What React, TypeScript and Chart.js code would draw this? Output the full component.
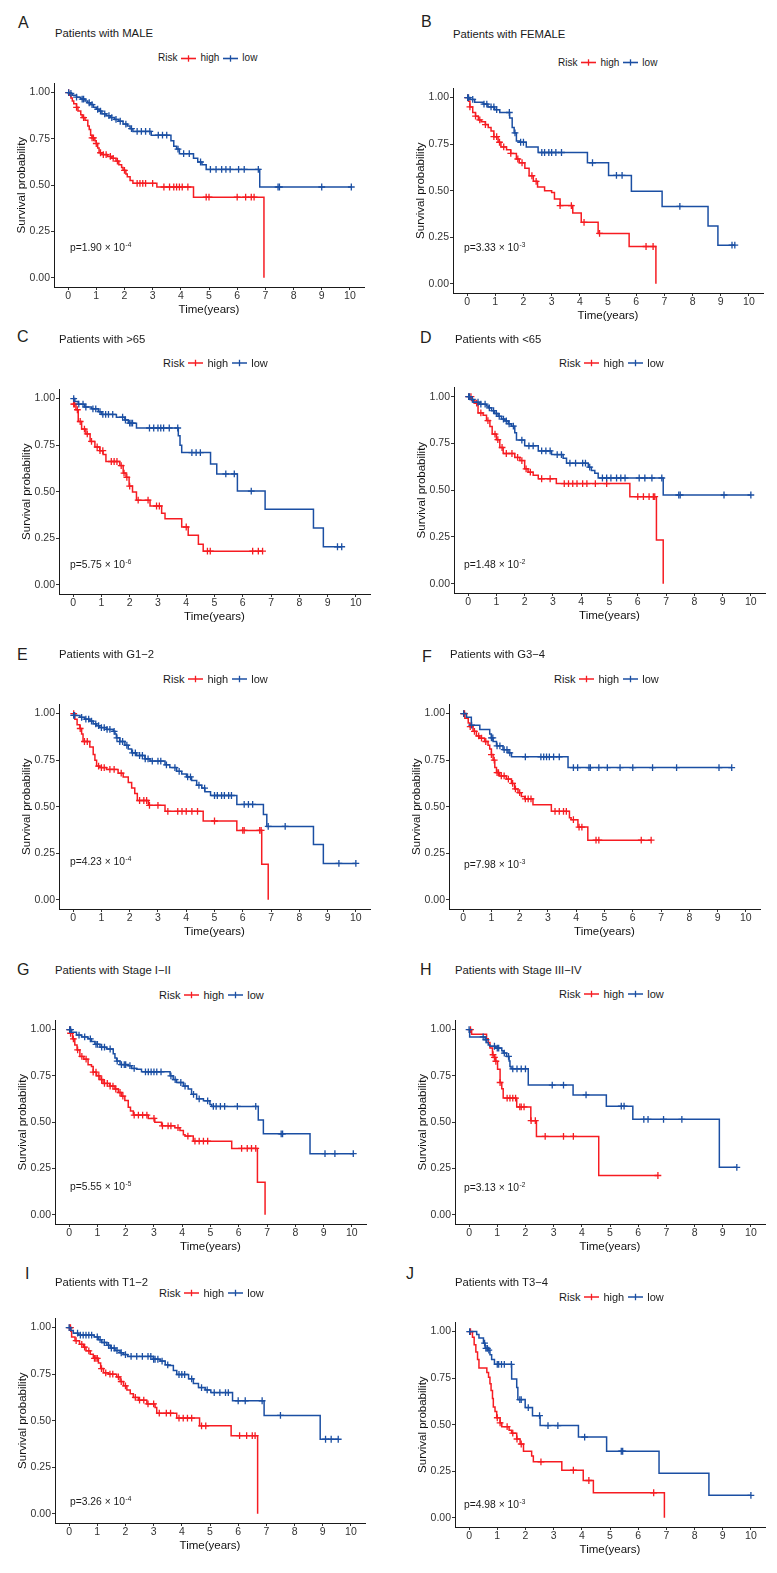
import React, { useEffect, useRef } from 'react';
import { Chart, registerables } from 'chart.js';

Chart.register(...registerables);

const FONT = "'Liberation Sans', Arial, Helvetica, sans-serif";
const RED = '#f61c22';
const BLUE = '#1b4fa3';

// ---------- axis ticks ----------
const xTickValues = [0, 1, 2, 3, 4, 5, 6, 7, 8, 9, 10];
const yTickValues = [0, 0.25, 0.5, 0.75, 1];
const yTickLabels = ['0.00', '0.25', '0.50', '0.75', '1.00'];
const xTitle = 'Time(years)';
const yTitle = 'Survival probability';
const legendTitle = 'Risk';
const groupNames = ['high', 'low'];

// ---------- A: MALE ----------
const maleHighT = [0.05, 0.1, 0.15, 0.2, 0.3, 0.35, 0.45, 0.5, 0.6, 0.7, 0.75, 0.8, 0.85, 0.95, 1.0, 1.05, 1.1, 1.2, 1.4, 1.55, 1.7, 1.8, 1.9, 1.95, 2.05, 2.1, 2.2, 2.3, 3.15, 4.45, 6.95];
const maleHighS = [0.985, 0.97, 0.955, 0.94, 0.92, 0.9, 0.88, 0.865, 0.85, 0.82, 0.8, 0.77, 0.755, 0.74, 0.725, 0.7, 0.675, 0.665, 0.655, 0.645, 0.63, 0.61, 0.595, 0.58, 0.56, 0.545, 0.525, 0.51, 0.49, 0.435, 0];
const maleHighC = [0.02, 0.3, 0.55, 0.85, 0.9, 1.0, 1.15, 1.25, 1.35, 1.5, 1.6, 1.75, 2.0, 2.45, 2.55, 2.65, 2.75, 3.0, 3.4, 3.6, 3.75, 3.85, 3.95, 4.05, 4.25, 4.9, 5.0, 6.0, 6.3, 6.5, 6.6];
const maleLowT = [0.05, 0.15, 0.3, 0.45, 0.6, 0.7, 0.8, 0.9, 1.0, 1.1, 1.2, 1.35, 1.5, 1.65, 1.8, 1.95, 2.1, 2.2, 2.3, 2.95, 3.65, 3.75, 3.85, 3.95, 4.45, 4.6, 4.75, 4.9, 6.8];
const maleLowS = [0.995, 0.985, 0.975, 0.965, 0.955, 0.945, 0.935, 0.92, 0.91, 0.9, 0.885, 0.875, 0.865, 0.855, 0.845, 0.83, 0.82, 0.805, 0.79, 0.77, 0.74, 0.71, 0.695, 0.67, 0.645, 0.625, 0.61, 0.585, 0.49];
const maleLowC = [0.02, 0.1, 0.3, 0.5, 0.55, 0.75, 0.85, 1.05, 1.15, 1.3, 1.45, 1.55, 1.7, 1.85, 2.05, 2.25, 2.45, 2.6, 2.75, 2.9, 3.2, 3.35, 3.5, 3.9, 4.1, 4.3, 4.7, 5.05, 5.25, 5.45, 5.6, 5.75, 6.05, 6.25, 6.75, 7.45, 7.5, 9.0, 10.05];

// ---------- B: FEMALE ----------
const femaleHighT = [0.05, 0.1, 0.2, 0.3, 0.4, 0.5, 0.65, 0.75, 0.85, 0.95, 1.1, 1.2, 1.4, 1.55, 1.75, 1.85, 2.05, 2.2, 2.35, 2.5, 2.75, 3.0, 3.1, 3.3, 3.75, 4.05, 4.65, 5.75, 6.7];
const femaleHighS = [0.98, 0.95, 0.92, 0.9, 0.88, 0.87, 0.855, 0.84, 0.82, 0.79, 0.76, 0.735, 0.72, 0.7, 0.67, 0.65, 0.62, 0.58, 0.55, 0.52, 0.5, 0.49, 0.455, 0.42, 0.38, 0.33, 0.27, 0.2, 0];
const femaleHighC = [0.02, 0.1, 0.3, 0.45, 0.65, 0.95, 1.05, 1.15, 1.3, 1.55, 1.8, 1.95, 2.3, 2.45, 3.3, 3.7, 4.15, 4.7, 6.35, 6.6];
const femaleLowT = [0.1, 0.27, 0.57, 0.74, 0.98, 1.16, 1.51, 1.6, 1.67, 1.75, 1.87, 2.1, 2.52, 4.27, 5.02, 5.83, 6.92, 8.55, 8.9];
const femaleLowS = [0.99, 0.975, 0.965, 0.95, 0.935, 0.92, 0.89, 0.84, 0.81, 0.767, 0.76, 0.735, 0.705, 0.65, 0.582, 0.497, 0.415, 0.31, 0.207];
const femaleLowC = [0.02, 0.05, 0.2, 0.6, 0.7, 0.85, 0.95, 1.05, 1.5, 1.7, 1.9, 2.0, 2.65, 2.75, 2.9, 3.0, 3.15, 3.35, 4.45, 5.3, 5.5, 7.55, 9.4, 9.5];

// ---------- C: >65 ----------
const olderHighT = [0.02, 0.1, 0.18, 0.3, 0.45, 0.6, 0.77, 0.94, 1.06, 1.16, 1.65, 1.77, 1.87, 1.98, 2.1, 2.24, 2.72, 3.13, 3.25, 3.84, 4.07, 4.43, 4.6];
const olderHighS = [0.97, 0.94, 0.877, 0.836, 0.81, 0.77, 0.74, 0.72, 0.7, 0.662, 0.64, 0.6, 0.577, 0.53, 0.498, 0.454, 0.423, 0.384, 0.354, 0.31, 0.266, 0.217, 0.18];
const olderHighC = [0.02, 0.05, 0.15, 0.25, 0.4, 0.5, 0.65, 0.85, 0.95, 1.05, 1.35, 1.45, 1.55, 1.7, 1.8, 1.9, 2.0, 2.3, 2.65, 2.95, 3.05, 4.0, 4.75, 4.85, 6.35, 6.55, 6.7];
const olderLowT = [0.06, 0.18, 0.41, 0.65, 0.89, 1.0, 1.53, 1.83, 1.95, 2.24, 3.72, 3.78, 3.84, 4.86, 5.08, 5.81, 6.79, 8.5, 8.85];
const olderLowS = [0.985, 0.97, 0.955, 0.945, 0.93, 0.915, 0.9, 0.885, 0.868, 0.842, 0.8, 0.75, 0.71, 0.648, 0.595, 0.503, 0.405, 0.305, 0.204];
const olderLowC = [0.02, 0.2, 0.35, 0.45, 0.7, 0.8, 0.95, 1.05, 1.15, 1.25, 1.4, 1.75, 1.85, 2.0, 2.05, 2.1, 2.7, 2.85, 3.0, 3.1, 3.2, 3.4, 3.7, 4.2, 4.35, 4.5, 5.4, 5.7, 6.3, 9.35, 9.5];

// ---------- D: <65 ----------
const youngerHighT = [0.12, 0.24, 0.35, 0.53, 0.65, 0.77, 0.85, 1.0, 1.12, 1.24, 1.65, 1.83, 2.0, 2.12, 2.3, 2.48, 3.12, 5.72, 6.66, 6.9];
const youngerHighS = [0.98, 0.965, 0.913, 0.9, 0.872, 0.84, 0.8, 0.77, 0.728, 0.696, 0.675, 0.658, 0.614, 0.596, 0.58, 0.561, 0.535, 0.465, 0.233, 0];
const youngerHighC = [0.02, 0.1, 0.3, 0.45, 0.7, 0.95, 1.05, 1.2, 1.35, 1.55, 1.75, 1.9, 2.05, 2.2, 2.6, 2.9, 3.4, 3.55, 3.7, 3.85, 4.05, 4.2, 4.5, 4.9, 6.0, 6.2, 6.4, 6.55, 6.6];
const youngerLowT = [0.06, 0.18, 0.41, 0.65, 0.71, 0.83, 0.94, 1.06, 1.18, 1.3, 1.42, 1.53, 1.65, 1.71, 2.0, 2.48, 2.95, 3.36, 3.48, 4.25, 4.36, 4.48, 4.6, 6.9];
const youngerLowS = [0.985, 0.97, 0.96, 0.95, 0.94, 0.925, 0.91, 0.895, 0.88, 0.87, 0.855, 0.842, 0.807, 0.768, 0.737, 0.71, 0.69, 0.67, 0.644, 0.623, 0.605, 0.59, 0.565, 0.474];
const youngerLowC = [0.02, 0.05, 0.15, 0.35, 0.45, 0.6, 0.75, 0.9, 1.0, 1.1, 1.25, 1.35, 1.45, 1.6, 1.9, 2.15, 2.3, 2.6, 2.75, 2.9, 3.15, 3.3, 3.6, 3.8, 4.05, 4.15, 4.3, 4.75, 4.9, 5.05, 5.25, 5.4, 5.55, 6.05, 6.25, 6.5, 6.85, 7.45, 7.5, 9.05, 10.0];

// ---------- E: G1-2 ----------
const g12HighT = [0.06, 0.14, 0.24, 0.3, 0.35, 0.59, 0.71, 0.77, 0.83, 0.94, 1.18, 1.59, 1.77, 1.95, 2.07, 2.18, 2.27, 2.66, 3.25, 4.6, 5.79, 6.67, 6.9];
const g12HighS = [0.97, 0.94, 0.92, 0.89, 0.85, 0.82, 0.78, 0.75, 0.718, 0.71, 0.7, 0.68, 0.66, 0.63, 0.6, 0.57, 0.533, 0.507, 0.475, 0.423, 0.372, 0.19, 0];
const g12HighC = [0.02, 0.25, 0.4, 0.5, 0.9, 1.0, 1.1, 1.3, 1.45, 1.7, 2.35, 2.5, 2.6, 2.7, 3.0, 3.35, 3.7, 3.85, 4.0, 4.2, 4.4, 5.0, 6.0, 6.05, 6.6, 6.65];
const g12LowT = [0.02, 0.24, 0.41, 0.59, 0.71, 0.83, 0.94, 1.18, 1.42, 1.48, 1.53, 1.65, 1.83, 1.95, 2.07, 2.24, 2.54, 2.72, 3.25, 3.42, 3.66, 3.84, 4.01, 4.19, 4.37, 4.55, 4.66, 4.86, 5.79, 6.73, 6.85, 8.5, 8.85];
const g12LowS = [0.99, 0.98, 0.97, 0.96, 0.945, 0.935, 0.925, 0.915, 0.905, 0.89, 0.87, 0.85, 0.83, 0.81, 0.789, 0.775, 0.757, 0.745, 0.725, 0.71, 0.69, 0.675, 0.66, 0.64, 0.615, 0.6, 0.58, 0.56, 0.512, 0.458, 0.394, 0.296, 0.195];
const g12LowC = [0.02, 0.05, 0.3, 0.45, 0.55, 0.65, 0.8, 0.9, 1.0, 1.1, 1.2, 1.3, 1.45, 1.55, 1.65, 1.75, 1.9, 2.1, 2.2, 2.35, 2.45, 2.55, 2.65, 2.8, 3.0, 3.1, 3.3, 3.6, 3.75, 4.05, 4.15, 4.45, 4.65, 5.0, 5.1, 5.25, 5.35, 5.5, 5.6, 6.05, 6.2, 6.35, 6.9, 7.5, 9.4, 10.0];

// ---------- F: G3-4 ----------
const g34HighT = [0.06, 0.18, 0.24, 0.35, 0.47, 0.59, 0.76, 0.88, 0.94, 1.0, 1.06, 1.12, 1.18, 1.29, 1.53, 1.71, 1.82, 1.94, 2.06, 2.18, 2.47, 3.12, 3.76, 3.82, 4.06, 4.41];
const g34HighS = [0.975, 0.95, 0.93, 0.905, 0.88, 0.868, 0.85, 0.83, 0.81, 0.78, 0.75, 0.71, 0.683, 0.665, 0.648, 0.625, 0.595, 0.575, 0.555, 0.542, 0.51, 0.475, 0.44, 0.43, 0.39, 0.32];
const g34HighC = [0.02, 0.05, 0.25, 0.4, 0.55, 0.65, 0.8, 1.0, 1.1, 1.2, 1.25, 1.35, 1.45, 1.6, 1.75, 1.85, 2.0, 2.2, 2.3, 2.4, 3.25, 3.4, 3.55, 3.65, 3.9, 4.1, 4.2, 4.7, 4.8, 6.3, 6.65];
const g34LowT = [0.12, 0.29, 0.59, 0.94, 1.0, 1.06, 1.18, 1.41, 1.59, 1.71, 3.71];
const g34LowS = [0.98, 0.938, 0.915, 0.89, 0.87, 0.85, 0.827, 0.806, 0.789, 0.768, 0.71];
const g34LowC = [0.02, 0.3, 1.0, 1.05, 1.2, 1.3, 1.45, 1.55, 1.65, 2.2, 2.75, 2.85, 2.95, 3.05, 3.2, 3.4, 3.9, 4.05, 4.45, 4.5, 4.8, 5.1, 5.55, 6.0, 6.7, 7.55, 9.05, 9.5];

// ---------- G: Stage I-II ----------
const s12HighT = [0.05, 0.12, 0.2, 0.28, 0.38, 0.52, 0.67, 0.79, 0.85, 0.97, 1.09, 1.2, 1.44, 1.62, 1.74, 1.85, 1.97, 2.09, 2.17, 2.27, 2.8, 3.03, 3.27, 3.74, 3.92, 4.04, 4.1, 4.39, 5.75, 6.66, 6.93];
const s12HighS = [0.98, 0.95, 0.917, 0.89, 0.855, 0.84, 0.81, 0.8, 0.77, 0.75, 0.73, 0.709, 0.695, 0.679, 0.66, 0.64, 0.617, 0.58, 0.56, 0.538, 0.52, 0.5, 0.48, 0.47, 0.455, 0.432, 0.425, 0.397, 0.358, 0.176, 0];
const s12HighC = [0.02, 0.05, 0.15, 0.3, 0.45, 0.6, 0.85, 0.95, 1.05, 1.15, 1.25, 1.35, 1.45, 1.55, 1.65, 1.8, 1.9, 2.3, 2.45, 2.6, 2.75, 3.0, 3.3, 3.5, 3.6, 3.85, 4.2, 4.45, 4.6, 4.75, 4.9, 6.1, 6.3, 6.45, 6.6];
const s12LowT = [0.08, 0.26, 0.44, 0.67, 0.79, 0.91, 1.09, 1.32, 1.56, 1.62, 1.68, 1.8, 2.09, 2.21, 2.39, 2.56, 3.57, 3.68, 3.8, 4.04, 4.21, 4.33, 4.51, 4.75, 4.98, 5.04, 6.69, 6.87, 8.52];
const s12LowS = [0.985, 0.97, 0.96, 0.95, 0.935, 0.92, 0.905, 0.895, 0.87, 0.846, 0.83, 0.811, 0.805, 0.79, 0.785, 0.772, 0.75, 0.73, 0.714, 0.695, 0.679, 0.65, 0.626, 0.615, 0.595, 0.585, 0.511, 0.437, 0.33];
const s12LowC = [0.02, 0.05, 0.35, 0.55, 0.75, 0.95, 1.0, 1.15, 1.25, 1.45, 1.7, 1.85, 1.95, 2.0, 2.15, 2.3, 2.7, 2.8, 2.9, 3.0, 3.1, 3.25, 3.6, 3.75, 3.95, 4.1, 4.4, 4.6, 4.9, 5.1, 5.2, 5.35, 5.5, 5.95, 6.6, 7.5, 7.55, 9.05, 9.4, 10.05];

// ---------- H: Stage III-IV ----------
const s34HighT = [0.09, 0.62, 0.68, 0.74, 0.83, 0.9, 0.94, 1.01, 1.1, 1.16, 1.21, 1.69, 2.19, 2.39, 4.6];
const s34HighS = [0.974, 0.95, 0.93, 0.9, 0.864, 0.85, 0.829, 0.785, 0.714, 0.68, 0.63, 0.582, 0.508, 0.423, 0.212];
const s34HighC = [0.05, 0.85, 0.9, 0.95, 1.1, 1.35, 1.45, 1.55, 1.65, 1.8, 1.85, 1.95, 2.2, 2.35, 2.7, 3.35, 3.7, 6.7];
const s34LowT = [0.02, 0.57, 0.62, 0.68, 0.74, 0.92, 1.16, 1.21, 1.33, 1.42, 1.45, 1.49, 2.1, 3.69, 4.87, 5.81, 8.88];
const s34LowS = [0.96, 0.945, 0.93, 0.917, 0.91, 0.9, 0.885, 0.873, 0.855, 0.83, 0.8, 0.788, 0.7, 0.647, 0.586, 0.515, 0.256];
const s34LowC = [0.0, 0.5, 0.6, 0.9, 1.0, 1.05, 1.25, 1.4, 1.55, 1.7, 1.85, 2.0, 2.95, 3.35, 4.15, 5.4, 5.5, 6.2, 6.35, 6.9, 7.55, 9.5];

// ---------- I: T1-2 ----------
const t12HighT = [0.06, 0.09, 0.21, 0.37, 0.51, 0.6, 0.75, 0.86, 1.04, 1.12, 1.22, 1.4, 1.69, 1.81, 1.93, 2.05, 2.17, 2.28, 2.46, 2.76, 3.05, 3.11, 3.82, 4.63, 5.75, 6.69];
const t12HighS = [0.98, 0.95, 0.93, 0.91, 0.895, 0.875, 0.857, 0.835, 0.81, 0.78, 0.757, 0.75, 0.735, 0.71, 0.687, 0.665, 0.645, 0.625, 0.61, 0.59, 0.57, 0.54, 0.514, 0.472, 0.419, 0];
const t12HighC = [0.02, 0.05, 0.25, 0.45, 0.55, 0.7, 0.9, 0.95, 1.0, 1.15, 1.3, 1.45, 1.55, 1.75, 1.85, 2.0, 2.35, 2.5, 2.65, 2.8, 3.0, 3.2, 3.45, 3.6, 3.9, 4.05, 4.2, 4.35, 4.7, 4.85, 6.05, 6.3, 6.5, 6.6];
const t12LowT = [0.06, 0.15, 0.33, 0.89, 1.04, 1.16, 1.34, 1.46, 1.63, 1.81, 1.93, 2.08, 2.99, 3.23, 3.41, 3.53, 3.7, 3.82, 4.24, 4.41, 4.59, 4.83, 5.03, 5.8, 6.92, 8.91];
const t12LowS = [0.985, 0.97, 0.96, 0.95, 0.935, 0.92, 0.905, 0.89, 0.877, 0.865, 0.855, 0.845, 0.83, 0.82, 0.8, 0.796, 0.77, 0.748, 0.725, 0.7, 0.678, 0.665, 0.651, 0.607, 0.528, 0.4];
const t12LowC = [0.0, 0.3, 0.4, 0.5, 0.6, 0.7, 0.8, 1.0, 1.1, 1.25, 1.4, 1.5, 1.6, 1.7, 1.85, 2.0, 2.2, 2.4, 2.6, 2.8, 2.9, 3.0, 3.05, 3.15, 3.3, 3.5, 3.9, 4.0, 4.1, 4.35, 4.7, 4.9, 5.15, 5.35, 5.55, 5.65, 6.0, 6.25, 6.85, 7.5, 9.1, 9.3, 9.55];

// ---------- J: T3-4 ----------
const t34HighT = [0.12, 0.18, 0.24, 0.3, 0.35, 0.63, 0.69, 0.74, 0.78, 0.83, 0.86, 0.92, 0.98, 1.1, 1.16, 1.42, 1.51, 1.69, 1.81, 1.93, 2.22, 2.28, 3.29, 4.05, 4.41, 6.93];
const t34HighS = [0.97, 0.93, 0.89, 0.85, 0.805, 0.78, 0.755, 0.72, 0.683, 0.64, 0.595, 0.57, 0.537, 0.51, 0.489, 0.47, 0.454, 0.423, 0.396, 0.357, 0.331, 0.3, 0.255, 0.2, 0.134, 0];
const t34HighC = [0.05, 1.0, 1.1, 1.35, 1.55, 1.7, 1.85, 2.55, 3.7, 4.25, 6.55];
const t34LowT = [0.27, 0.35, 0.51, 0.57, 0.69, 0.74, 0.8, 0.9, 1.51, 1.69, 1.73, 1.99, 2.25, 2.52, 3.88, 4.88, 6.74, 8.51];
const t34LowS = [0.985, 0.965, 0.938, 0.91, 0.9, 0.875, 0.85, 0.824, 0.745, 0.7, 0.635, 0.592, 0.548, 0.495, 0.433, 0.357, 0.239, 0.12];
const t34LowC = [0.02, 0.55, 0.6, 0.65, 0.7, 1.0, 1.05, 1.15, 1.25, 1.5, 1.8, 1.85, 2.1, 2.5, 2.8, 3.15, 4.1, 5.4, 5.45, 10.0];

// ---------- panel text ----------
const panelLetters = ['A', 'B', 'C', 'D', 'E', 'F', 'G', 'H', 'I', 'J'];
const panelTitles = [
  'Patients with MALE', 'Patients with FEMALE', 'Patients with >65', 'Patients with <65',
  'Patients with G1\u22122', 'Patients with G3\u22124', 'Patients with Stage I\u2212II',
  'Patients with Stage III\u2212IV', 'Patients with T1\u22122', 'Patients with T3\u22124',
];
const pMantissas = ['1.90', '3.33', '5.75', '1.48', '4.23', '7.98', '5.55', '3.13', '3.26', '4.98'];
const pExponents = ['-4', '-3', '-6', '-2', '-4', '-3', '-5', '-2', '-4', '-3'];

const curvesHigh = [
  [maleHighT, maleHighS, maleHighC], [femaleHighT, femaleHighS, femaleHighC],
  [olderHighT, olderHighS, olderHighC], [youngerHighT, youngerHighS, youngerHighC],
  [g12HighT, g12HighS, g12HighC], [g34HighT, g34HighS, g34HighC],
  [s12HighT, s12HighS, s12HighC], [s34HighT, s34HighS, s34HighC],
  [t12HighT, t12HighS, t12HighC], [t34HighT, t34HighS, t34HighC],
];
const curvesLow = [
  [maleLowT, maleLowS, maleLowC], [femaleLowT, femaleLowS, femaleLowC],
  [olderLowT, olderLowS, olderLowC], [youngerLowT, youngerLowS, youngerLowC],
  [g12LowT, g12LowS, g12LowC], [g34LowT, g34LowS, g34LowC],
  [s12LowT, s12LowS, s12LowC], [s34LowT, s34LowS, s34LowC],
  [t12LowT, t12LowS, t12LowC], [t34LowT, t34LowS, t34LowC],
];

// ---------- layout (pixel positions only) ----------
// x0/x10: pixel of t=0 / t=10 ; y1/y0: pixel of S=1 / S=0
const LAYOUT = [
  { x0: 68.3, x10: 350, y1: 89, y0: 278, lx: 18, ly: 23, tx: 55, ty: 33.5, gx: 158, gy: 58, gf: 10, px: 70, py: 248.3 },
  { x0: 467, x10: 749, y1: 94.3, y0: 283.3, lx: 421, ly: 22, tx: 453, ty: 34.5, gx: 558, gy: 62.7, gf: 10, px: 464, py: 248.3 },
  { x0: 73.3, x10: 355.7, y1: 395, y0: 584.3, lx: 17, ly: 337, tx: 59, ty: 340, gx: 163, gy: 363.3, gf: 11, px: 70, py: 565 },
  { x0: 468, x10: 750.7, y1: 393.3, y0: 583.3, lx: 420, ly: 338, tx: 455, ty: 340, gx: 559, gy: 362.7, gf: 11, px: 464, py: 565 },
  { x0: 73.3, x10: 355.7, y1: 710, y0: 899.3, lx: 17, ly: 655, tx: 59, ty: 655, gx: 163, gy: 679, gf: 11, px: 70, py: 861.7 },
  { x0: 463, x10: 746.3, y1: 710, y0: 899.3, lx: 422, ly: 657, tx: 450, ty: 655, gx: 554, gy: 679, gf: 11, px: 464, py: 865 },
  { x0: 69.3, x10: 351.7, y1: 1026, y0: 1215, lx: 17, ly: 970, tx: 55, ty: 971, gx: 159, gy: 995, gf: 11, px: 70, py: 1186.7 },
  { x0: 468.7, x10: 751.3, y1: 1026, y0: 1215, lx: 420, ly: 970, tx: 455, ty: 971, gx: 559, gy: 994.3, gf: 11, px: 464, py: 1187.7 },
  { x0: 69, x10: 350.7, y1: 1324, y0: 1513.3, lx: 25, ly: 1274, tx: 55, ty: 1283, gx: 159, gy: 1292.7, gf: 11, px: 70, py: 1501.7 },
  { x0: 468.7, x10: 750.7, y1: 1328.3, y0: 1517.7, lx: 406, ly: 1274, tx: 455, ty: 1283, gx: 559, gy: 1296.7, gf: 11, px: 464, py: 1505 },
];

const YW = 40; // y-axis box width
const XH = 31; // x-axis box height
const PT = 4;
const PR = 4;

function buildCurve(T: number[], S: number[], C: number[]) {
  const pts: { x: number; y: number; c: boolean }[] = [{ x: 0, y: 1, c: false }];
  T.forEach((t, i) => pts.push({ x: t, y: S[i], c: false }));
  const level = (c: number) => {
    let y = 1;
    T.forEach((t, i) => { if (t <= c) y = S[i]; });
    return y;
  };
  C.forEach((c) => pts.push({ x: c, y: level(c), c: true }));
  pts.sort((a, b) => a.x - b.x || (a.c ? 1 : 0) - (b.c ? 1 : 0));
  return pts;
}

function makeDataset(curve: number[][], color: string, label: string) {
  const pts = buildCurve(curve[0], curve[1], curve[2]);
  return {
    label,
    data: pts,
    borderColor: color,
    backgroundColor: color,
    borderWidth: 1.5,
    stepped: 'before' as const,
    fill: false,
    pointStyle: 'cross' as const,
    pointRadius: pts.map((p) => (p.c ? 3.4 : 0)),
    pointHoverRadius: 0,
    pointBorderColor: color,
    pointBorderWidth: 1.3,
  };
}

function Swatch({ color }: { color: string }) {
  return (
    <svg width={15} height={9} style={{ display: 'block', margin: '0 4px' }}>
      <line x1={0} y1={4.5} x2={15} y2={4.5} stroke={color} strokeWidth={1.6} />
      <line x1={7.5} y1={1.3} x2={7.5} y2={7.7} stroke={color} strokeWidth={1.3} />
    </svg>
  );
}

function Panel({ idx }: { idx: number }) {
  const ref = useRef<HTMLCanvasElement | null>(null);
  const L = LAYOUT[idx];
  const ppx = (L.x10 - L.x0) / 10;
  const axisX = Math.round(L.x0 - 0.5 * ppx);
  const axisR = Math.round(L.x10 + 0.5 * ppx);
  const ppy = L.y0 - L.y1;
  const axisT = Math.round(L.y1 - 0.05 * ppy);
  const axisB = Math.round(L.y0 + 0.05 * ppy);
  const left = axisX - YW;
  const top = axisT - PT;
  const width = axisR - axisX + YW + PR;
  const height = axisB - axisT + PT + XH;

  useEffect(() => {
    const canvas = ref.current;
    if (!canvas) return;
    const tickFont = { family: FONT, size: 10.5, weight: 'normal' };
    const titleFont = { family: FONT, size: 11.5, weight: 'normal' };
    const chart = new Chart(canvas, {
      type: 'line',
      data: {
        datasets: [
          makeDataset(curvesLow[idx], BLUE, groupNames[1]),
          makeDataset(curvesHigh[idx], RED, groupNames[0]),
        ] as any,
      },
      options: {
        animation: false,
        responsive: false,
        devicePixelRatio: 1,
        events: [],
        layout: { padding: { left: 0, top: PT, right: PR, bottom: 0 }, autoPadding: false },
        plugins: { legend: { display: false }, tooltip: { enabled: false }, title: { display: false } },
        scales: {
          x: {
            type: 'linear',
            position: 'bottom',
            min: -0.5,
            max: 10.5,
            afterBuildTicks: (s: any) => { s.ticks = xTickValues.map((v) => ({ value: v })); },
            afterFit: (s: any) => { s.height = XH; },
            ticks: { callback: (v: any) => String(v), font: tickFont, color: '#333', padding: 0, autoSkip: false, maxRotation: 0 },
            grid: { drawOnChartArea: false, drawTicks: true, tickLength: 3, color: '#333', lineWidth: 1 },
            border: { display: true, color: '#1a1a1a', width: 1 },
            title: { display: true, text: xTitle, font: titleFont, color: '#111', padding: { top: 0, bottom: 1 } },
          },
          y: {
            type: 'linear',
            position: 'left',
            min: -0.05,
            max: 1.05,
            afterBuildTicks: (s: any) => { s.ticks = yTickValues.map((v) => ({ value: v })); },
            afterFit: (s: any) => { s.width = YW; },
            ticks: {
              callback: (v: any) => yTickLabels[yTickValues.indexOf(Number(v))] ?? Number(v).toFixed(2),
              font: tickFont, color: '#333', padding: 1, autoSkip: false,
            },
            grid: { drawOnChartArea: false, drawTicks: true, tickLength: 3, color: '#333', lineWidth: 1 },
            border: { display: true, color: '#1a1a1a', width: 1 },
            title: { display: true, text: yTitle, font: titleFont, color: '#111', padding: { top: 1, bottom: 0 } },
          },
        },
      } as any,
    });
    return () => chart.destroy();
  }, [idx]);

  const textColor = '#1a1a1a';
  return (
    <>
      <canvas
        ref={ref}
        width={width}
        height={height}
        style={{ position: 'absolute', left, top, width, height, display: 'block' }}
      />
      <div style={{ position: 'absolute', left: L.lx, top: L.ly, transform: 'translateY(-50%)', fontSize: 16, lineHeight: 1, color: '#231f20', whiteSpace: 'nowrap' }}>
        {panelLetters[idx]}
      </div>
      <div style={{ position: 'absolute', left: L.tx, top: L.ty, transform: 'translateY(-50%)', fontSize: 11.3, lineHeight: 1, color: textColor, whiteSpace: 'nowrap' }}>
        {panelTitles[idx]}
      </div>
      <div style={{ position: 'absolute', left: L.gx, top: L.gy, transform: 'translateY(-50%)', fontSize: L.gf, lineHeight: 1, color: textColor, whiteSpace: 'nowrap', display: 'flex', alignItems: 'center' }}>
        <span>{legendTitle}</span>
        <Swatch color={RED} />
        <span>{groupNames[0]}</span>
        <Swatch color={BLUE} />
        <span>{groupNames[1]}</span>
      </div>
      <div style={{ position: 'absolute', left: L.px, top: L.py, transform: 'translateY(-50%)', fontSize: 10.3, lineHeight: 1, color: textColor, whiteSpace: 'nowrap' }}>
        {'p=' + pMantissas[idx] + ' \u00d7 10'}
        <span style={{ fontSize: 6.5, position: 'relative', top: -4, marginLeft: 0.5 }}>{pExponents[idx]}</span>
      </div>
    </>
  );
}

export default function App() {
  return (
    <div
      style={{
        position: 'absolute', left: 0, top: 0, width: 777, height: 1573,
        background: '#ffffff', overflow: 'hidden', fontFamily: FONT,
      }}
    >
      {panelLetters.map((_, i) => (
        <Panel key={i} idx={i} />
      ))}
    </div>
  );
}
